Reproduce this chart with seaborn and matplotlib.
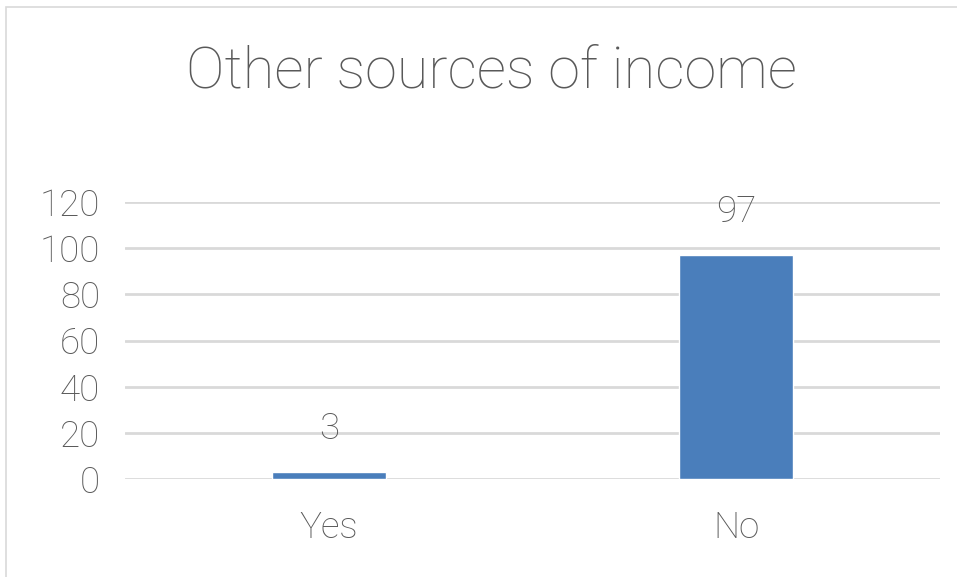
import matplotlib
matplotlib.use('Agg')
import matplotlib.pyplot as plt
import seaborn as sns
import pandas as pd
from matplotlib.patches import Rectangle

# data
categories = ['Yes', 'No']
counts = [3, 97]
yticks = [0, 20, 40, 60, 80, 100, 120]

sns.set_style('white')
plt.rcParams['font.family'] = ['Roboto', 'DejaVu Sans']

text_color = '#595959'
grid_color = '#d9d9d9'
bar_color = '#4a7ebb'

df = pd.DataFrame({'answer': categories, 'count': counts})

fig = plt.figure(figsize=(9.57, 5.77), dpi=100)
ax = fig.add_axes([125 / 957, 1 - 479 / 577, 815 / 957, 277 / 577])

sns.barplot(data=df, x='answer', y='count', color=bar_color, width=0.28,
            saturation=1, ax=ax)

ax.set_ylim(0, 120)
ax.set_xlim(-0.5, 1.5)
ax.set_yticks(yticks)
ax.set_yticklabels([str(t) for t in yticks])
ax.yaxis.grid(True, color=grid_color, linewidth=2)
ax.set_axisbelow(True)
for s in ax.spines.values():
    s.set_visible(False)
ax.tick_params(axis='both', length=0, labelsize=26.5, labelcolor=text_color)
ax.tick_params(axis='y', pad=18)
ax.tick_params(axis='x', pad=22)
for lbl in ax.get_xticklabels() + ax.get_yticklabels():
    lbl.set_fontweight('light')
ax.set_xlabel('')
ax.set_ylabel('')

ax.bar_label(ax.containers[0], labels=[str(c) for c in counts], padding=18,
             fontsize=26.5, color=text_color, fontweight='light')

fig.text(491 / 957, 1 - 72 / 577, 'Other sources of income', ha='center', va='center',
         fontsize=41.5, color=text_color, fontweight='light')

# chart area border (cropped on right and bottom)
fig.patches.append(Rectangle((6 / 957, -0.05), 1.0, 1 - 7 / 577 + 0.05,
                             transform=fig.transFigure, fill=False,
                             edgecolor=grid_color, linewidth=1.2))

fig.savefig('out.png', dpi=100)
